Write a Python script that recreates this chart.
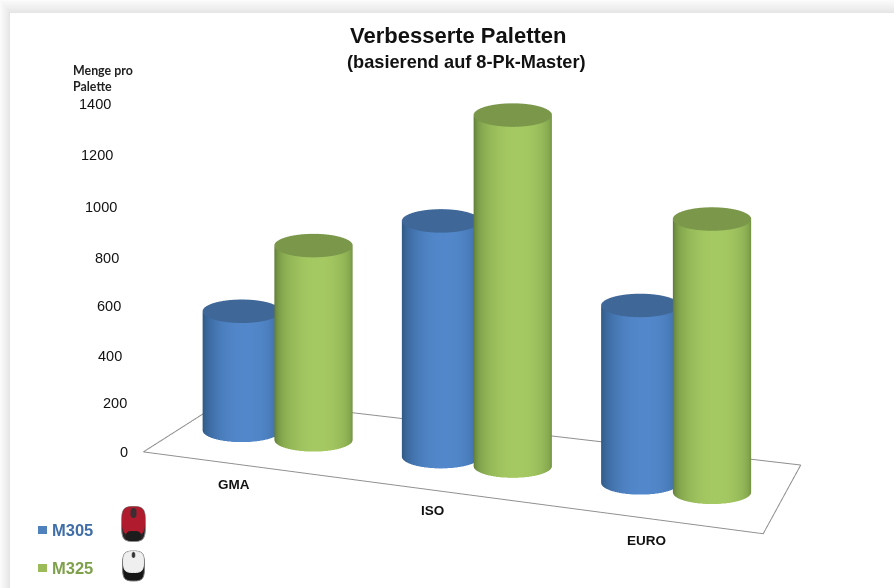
import numpy as np, plotly.graph_objects as go

W, H = 894, 588
cats = ["GMA", "ISO", "EURO"]
m305 = [460, 910, 685]
m325 = [750, 1355, 1055]
ticks = [0, 200, 400, 600, 800, 1000, 1200, 1400]
tick_x = [128, 127, 122, 121, 119, 117, 113, 111]
tick_y = [452, 403, 356, 306, 258, 207, 155, 104]
floor_x = [0.038, 3.15, 2.885, 0.062, 0.038]
floor_y = [0.017, 0.014, 1.048, 0.927, 0.017]

# view of the scene
AZ, EL = np.radians(23.7), np.radians(17.46)
KPX = 295.0
SCALE = 655.0
AX = SCALE / KPX
AY, AZR = 0.333 * AX, 0.5825 * AX
OFFX, OFFY = 30.0, -14.0
dist = 3.0
r = np.array([np.cos(AZ), np.sin(AZ), 0])
u = np.array([-np.sin(AZ) * np.sin(EL), np.cos(AZ) * np.sin(EL), np.cos(EL)])
f = np.array([-np.sin(AZ) * np.cos(EL), np.cos(AZ) * np.cos(EL), -np.sin(EL)])
cen = -OFFX / KPX * r + OFFY / KPX * u
eye = cen - dist * f

fig = go.Figure()
R = 0.36 / 2
R_world = R / 3 * AX
th = np.linspace(0, 2 * np.pi, 145)
view = np.arctan2(-np.cos(AZ), np.sin(AZ))
flat = dict(ambient=1, diffuse=0, specular=0, fresnel=0, roughness=1)

def cyl(x0, val, name, scale, cap):
    xs = x0 + R * np.cos(th)
    ys = .5 + R_world / AY * np.sin(th)
    col = np.clip(np.cos(th - view - 0.12), 0, 1)
    fig.add_surface(x=np.vstack([xs, xs]), y=np.vstack([ys, ys]), z=np.vstack([0 * th, 0 * th + val]),
                    surfacecolor=np.vstack([col, col]), cmin=0, cmax=1, colorscale=scale, showscale=False,
                    name=name, hoverinfo="skip", lighting=flat)
    rr = np.linspace(0, 1, 3)[:, None]
    fig.add_surface(x=x0 + R * rr * np.cos(th), y=.5 + R_world / AY * rr * np.sin(th), z=val + 0 * rr * th,
                    surfacecolor=0 * rr * th, cmin=0, cmax=1, colorscale=[[0, cap], [1, cap]], showscale=False,
                    hoverinfo="skip", lighting=flat)

blue = [[0, "#2f5880"], [.5, "#3f6ea6"], [1, "#5288cb"]]
green = [[0, "#5f7c38"], [.5, "#86a84f"], [1, "#a5c962"]]
for i in range(len(cats)):
    cyl(i + .5 - R, m305[i], "M305", blue, "#3f6797")
    cyl(i + .5 + R, m325[i], "M325", green, "#7a974a")
fig.add_scatter3d(x=floor_x, y=floor_y, z=[0] * 5, mode="lines",
                  line=dict(color="#8f8f8f", width=2), hoverinfo="skip", showlegend=False)

hid = dict(visible=False)
fig.update_layout(
    width=W, height=H, margin=dict(l=0, r=0, t=0, b=0), paper_bgcolor="white", showlegend=False,
    font=dict(family="Liberation Sans", color="#111111"),
    scene=dict(domain=dict(x=[0, 1], y=[0, 1]), bgcolor="rgba(0,0,0,0)",
               xaxis=dict(range=[-.3, 3.3], **hid), yaxis=dict(range=[-.1, 1.1], **hid), zaxis=dict(range=[0, 1400], **hid),
               aspectmode="manual", aspectratio=dict(x=AX * 1.2, y=AY * 1.2, z=AZR),
               camera=dict(eye=dict(x=eye[0], y=eye[1], z=eye[2]), center=dict(x=cen[0], y=cen[1], z=cen[2]),
                           up=dict(x=0, y=0, z=1), projection=dict(type="orthographic"))))

def text(t, x, y, size, anchor="center", color="#111111", bold=False, family="Liberation Sans"):
    nudge = {"left": -2, "right": 2, "center": 0}[anchor]
    fig.add_annotation(xref="paper", yref="paper", x=(x + nudge) / W, y=1 - y / H, text=f"<b>{t}</b>" if bold else t,
                       showarrow=False, xanchor=anchor, yanchor="middle",
                       font=dict(size=size, color=color, family=family))

text("Verbesserte Paletten", 458, 35, 22, bold=True)
text("(basierend auf 8-Pk-Master)", 466, 62, 18.2, bold=True)
text("Menge pro", 73, 70, 12.4, "left", "#222222", True, "Lato")
text("Palette", 73, 86, 12.4, "left", "#222222", True, "Lato")
for t, x, y in zip(ticks, tick_x, tick_y):
    text(str(t), x, y, 14.5, "right")
for c, x, y in zip(cats, [234, 432, 646], [484, 510, 540]):
    text(c, x, y, 13.5, bold=True)
text("M305", 52, 530, 16.5, "left", "#3f6ea8", True)
text("M325", 52, 568, 16.5, "left", "#7ea04a", True)

def rect(x0, y0, x1, y1, color):
    fig.add_shape(type="rect", xref="paper", yref="paper", x0=x0 / W, x1=x1 / W, y0=1 - y0 / H, y1=1 - y1 / H,
                  fillcolor=color, line_width=0, layer="below")

def oval(cx, cy, w, h, color, line=None):
    x0, x1 = (cx - w / 2) / W, (cx + w / 2) / W
    ym = 1 - cy / H
    y0, y1 = 1 - (cy - h / 2) / H, 1 - (cy + h / 2) / H
    xm = cx / W
    k = .85
    p = (f"M {x0} {ym} C {x0} {y0 + (ym - y0) * (1 - k)} {xm - (xm - x0) * k} {y0} {xm} {y0} "
         f"C {xm + (xm - x0) * k} {y0} {x1} {y0 + (ym - y0) * (1 - k)} {x1} {ym} "
         f"C {x1} {y1 + (ym - y1) * (1 - k)} {xm + (xm - x0) * k} {y1} {xm} {y1} "
         f"C {xm - (xm - x0) * k} {y1} {x0} {y1 + (ym - y1) * (1 - k)} {x0} {ym} Z")
    fig.add_shape(type="path", xref="paper", yref="paper", path=p, fillcolor=color,
                  line=dict(color=line or color, width=1))

# sheet shadow along the top and left edge
for k, c in enumerate(["#fbfbfb", "#f8f8f8", "#f6f6f6", "#f4f4f4", "#f2f2f2", "#f0f0f0", "#eeeeee", "#ebebeb", "#e8e8e8", "#e5e5e5"]):
    rect(k, k * 1.3, W, H, c)
rect(10, 13, W, H, "white")

# legend keys
rect(38, 526, 47, 534, "#4f81bd")
rect(38, 564, 47, 572, "#9bbb59")

# mouse pictures
oval(133.5, 524, 24, 35, "#2a2326", "#8a8a8a")
oval(133.5, 521, 22, 28, "#b01c2e")
oval(133.5, 536, 14, 9, "#1c1c1c")
oval(133.5, 513, 5, 9, "#3a3034")
oval(133.5, 566, 22, 30, "#161616", "#777777")
oval(133.5, 562, 20, 21, "#efefef")
oval(133.5, 555, 2.5, 5, "#333333")

fig.write_html("out.html", post_script="document.body.style.margin='0';document.body.style.overflow='hidden';",
               config=dict(displayModeBar=False))
